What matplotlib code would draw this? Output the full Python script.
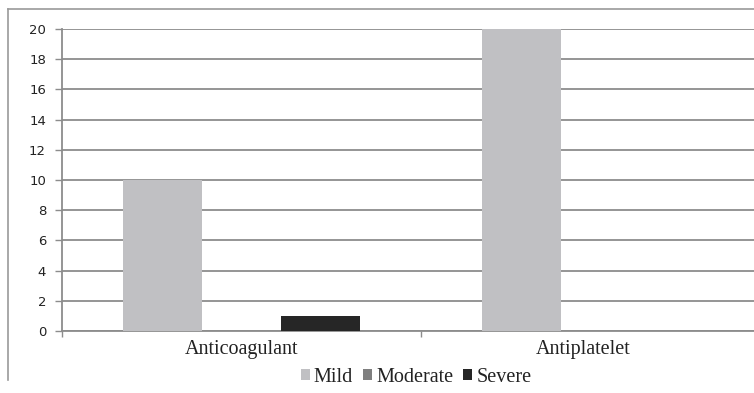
import matplotlib
matplotlib.use("Agg")
import matplotlib.pyplot as plt
from matplotlib.lines import Line2D
import numpy as np

categories = ["Anticoagulant", "Antiplatelet"]
series = ["Mild", "Moderate", "Severe"]
mild = [10, 20]
moderate = [0, 0]
severe = [1, 0]
yticks = [0, 2, 4, 6, 8, 10, 12, 14, 16, 18, 20]

colors = ["#c0c0c3", "#7f7f7f", "#262626"]

W, H = 754, 393
CAT_PX = 359
fig = plt.figure(figsize=(W / 100, H / 100), dpi=100)
ax = fig.add_axes([62 / W, (H - 331) / H, (W - 62) / W, 302 / H])

x = np.arange(len(categories))
bw = 0.22
for i, (vals, c, name) in enumerate(zip([mild, moderate, severe], colors, series)):
    ax.bar(x + (i - 1) * bw, vals, width=bw, color=c, label=name, zorder=3)

ax.set_xticks([-0.5, 0.5])
ax.set_xticklabels([])
ax.set_ylim(0, 20)
ax.set_xlim(-0.5, -0.5 + (W - 62) / CAT_PX)
ax.set_yticks(yticks)
ax.set_yticklabels([str(v) for v in yticks], fontsize=9.5, family="DejaVu Sans", color="#222222")
ax.yaxis.grid(True, color="#8c8c8c", linewidth=1.3, zorder=0)
ax.set_axisbelow(True)

ax.tick_params(axis="x", length=4, color="#8c8c8c", width=1)
ax.tick_params(axis="y", length=5, color="#8c8c8c", width=1, pad=6.5)
label_offsets = [0.0, -0.047]
for i, cat in enumerate(categories):
    ax.text(i + label_offsets[i], -1.2, cat, ha="center", va="center", fontsize=14.5,
            family="Liberation Serif", color="#222222")

for s in ["top", "right"]:
    ax.spines[s].set_visible(False)
for s in ["left", "bottom"]:
    ax.spines[s].set_color("#8c8c8c")
    ax.spines[s].set_linewidth(1.3)

leg = fig.legend(loc="center", bbox_to_anchor=(416 / W, (H - 377) / H), ncol=3,
                 frameon=False, prop={"family": "Liberation Serif", "size": 14.5},
                 handlelength=0.45, handleheight=0.45, handletextpad=0.2,
                 columnspacing=0.5)
for t in leg.get_texts():
    t.set_color("#222222")

fig.add_artist(Line2D([8 / W, 8 / W], [(H - 9) / H, (H - 380) / H],
                      transform=fig.transFigure, color="#9a9a9a", linewidth=1.2))
fig.add_artist(Line2D([8 / W, 1.0], [(H - 9) / H, (H - 9) / H],
                      transform=fig.transFigure, color="#9a9a9a", linewidth=1.2))

fig.savefig("out.png", dpi=100)
